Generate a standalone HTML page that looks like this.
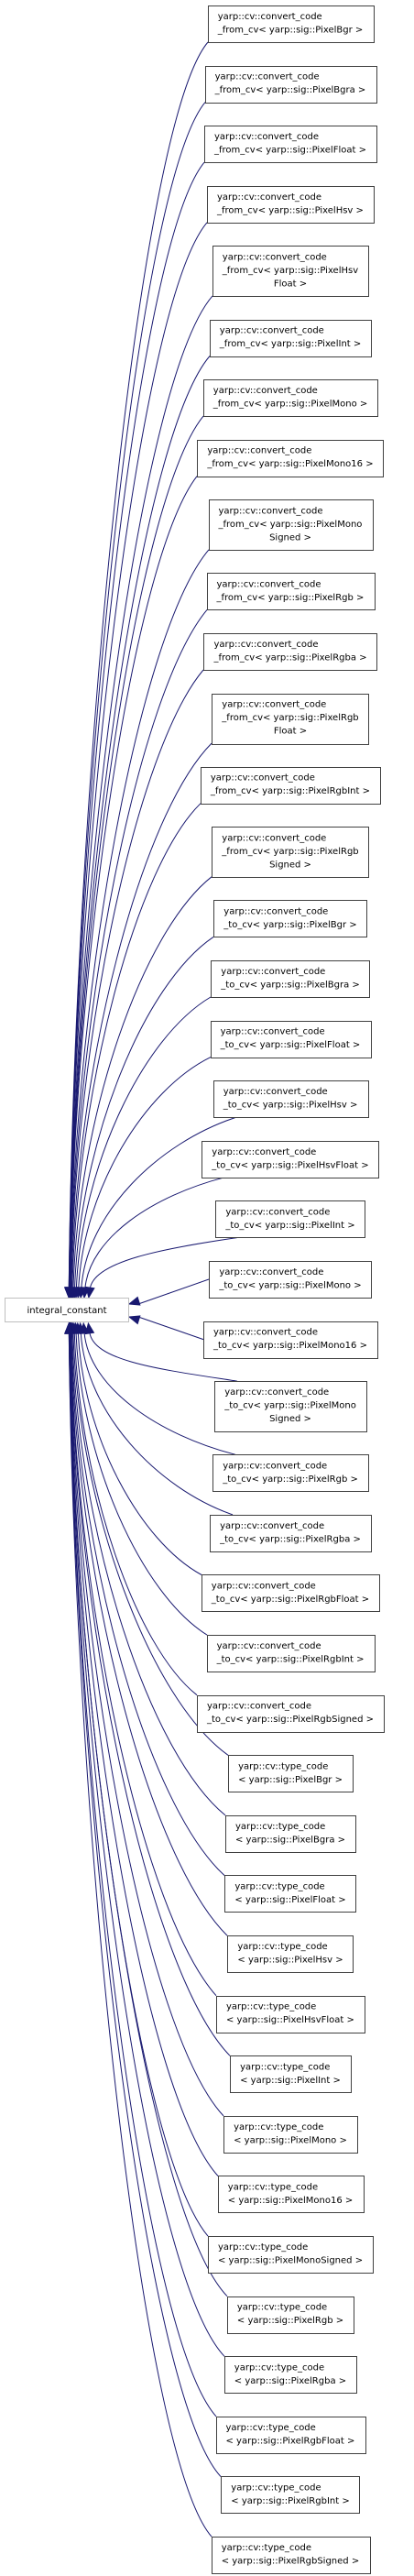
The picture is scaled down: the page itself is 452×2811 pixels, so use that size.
<!DOCTYPE html>
<html><head><meta charset="utf-8">
<style>
html,body{margin:0;padding:0;background:#fff;}
svg{display:block;}
text{font-family:"DejaVu Sans","Liberation Sans",sans-serif;font-size:10px;fill:#000;}
</style></head>
<body>
<svg id="g" width="452" height="2811" viewBox="0 0 452 2811">
  <g id="edges"></g>
  <g id="nodes"></g>
  <g>
    <rect x="5.5" y="1416.5" width="135" height="26" fill="#fff" stroke="#bfbfbf" stroke-width="1"/>
    <text x="73" y="1433" text-anchor="middle">integral_constant</text>
  </g>
</svg>
<script>
const pixels = ["Bgr","Bgra","Float","Hsv","HsvFloat","Int","Mono","Mono16","MonoSigned","Rgb","Rgba","RgbFloat","RgbInt","RgbSigned"];
const fromLines = {
  HsvFloat:["yarp::cv::convert_code","_from_cv< yarp::sig::PixelHsv","Float >"],
  MonoSigned:["yarp::cv::convert_code","_from_cv< yarp::sig::PixelMono","Signed >"],
  RgbFloat:["yarp::cv::convert_code","_from_cv< yarp::sig::PixelRgb","Float >"],
  RgbSigned:["yarp::cv::convert_code","_from_cv< yarp::sig::PixelRgb","Signed >"]
};
const toLines = {
  MonoSigned:["yarp::cv::convert_code","_to_cv< yarp::sig::PixelMono","Signed >"]
};
const nodes = [];
pixels.forEach(p => nodes.push(fromLines[p] || ["yarp::cv::convert_code","_from_cv< yarp::sig::Pixel"+p+" >"]));
pixels.forEach(p => nodes.push(toLines[p] || ["yarp::cv::convert_code","_to_cv< yarp::sig::Pixel"+p+" >"]));
pixels.forEach(p => nodes.push(["yarp::cv::type_code","< yarp::sig::Pixel"+p+" >"]));

const NS="http://www.w3.org/2000/svg";
const gN=document.getElementById('nodes'), gE=document.getElementById('edges');
const CX=317, PY=1430, GAP=25.6;
let y=6;
nodes.forEach((lines,i)=>{
  const h = lines.length===3 ? 54.5 : 40;
  const g=document.createElementNS(NS,'g');
  
  
  const rect=document.createElementNS(NS,'rect');
  g.appendChild(rect);
  gN.appendChild(g);
  const texts=lines.map((l,k)=>{
    const t=document.createElementNS(NS,'text');
    t.textContent=l;
    t.setAttribute('y', (y+15+k*14.5).toFixed(1));
    g.appendChild(t);
    return t;
  });
  let w=0; texts.forEach(t=>{w=Math.max(w,t.getComputedTextLength());});
  const bw=w+22, bx=CX-bw/2;
  texts.forEach((t,k)=>{
    if(lines.length===3 && k===2){t.setAttribute('x',CX);t.setAttribute('text-anchor','middle');}
    else t.setAttribute('x',(bx+11).toFixed(1));
  });
  rect.setAttribute('x',(Math.round(bx)+0.5));
  rect.setAttribute('y',(Math.round(y)+0.5));
  rect.setAttribute('width',Math.round(bw));
  rect.setAttribute('height',Math.round(h));
  rect.setAttribute('fill','#fff');
  rect.setAttribute('stroke','#404040');
  rect.setAttribute('stroke-width','1');

  const cy=y+h/2, dy=cy-PY, s=dy<0?1:-1, ad=Math.abs(dy);
  let d, ex, ey, tx, ty;
  const bxr=Math.round(bx);
  if(ad<70){
    ex=141; ey=PY+(dy<0?-7:7);
    const sx=bxr;
    d=`M${sx},${cy} L${ex+10},${ey}`;
    tx=sx-ex; ty=cy-ey;
  } else {
    ey = dy<0 ? 1416 : 1444;
    ex = 75 + 32*Math.exp(-ad/260);
    const sx=bxr+ (ad<250?25:0), sy = dy<0 ? y+h : y;
    const c1x = ex + (sx-ex)*0.5, c1y = sy + s*Math.min(90, ad*0.12);
    const c2x = ex + 6, c2y = ey - s*ad*0.4;
    let vx=c2x-ex, vy=c2y-ey; const L=Math.hypot(vx,vy); vx/=L; vy/=L;
    const bxp=ex+vx*10, byp=ey+vy*10;
    d=`M${sx},${sy} C${c1x},${c1y} ${c2x},${c2y} ${bxp},${byp}`;
    tx=vx; ty=vy;
  }
  const path=document.createElementNS(NS,'path');
  path.setAttribute('d',d);
  path.setAttribute('fill','none');
  path.setAttribute('stroke','#191970');
  path.setAttribute('stroke-width','1');
  
  
  gE.appendChild(path);
  let L2=Math.hypot(tx,ty); tx/=L2; ty/=L2;
  const px=-ty, py=tx;
  const b1x=ex+tx*11+px*4.5, b1y=ey+ty*11+py*4.5, b2x=ex+tx*11-px*4.5, b2y=ey+ty*11-py*4.5;
  const arr=document.createElementNS(NS,'polygon');
  arr.setAttribute('points',`${ex},${ey} ${b1x},${b1y} ${b2x},${b2y}`);
  arr.setAttribute('fill','#191970');
  arr.setAttribute('stroke','#191970');
  
  
  gE.appendChild(arr);
  y+=h+GAP;
});
</script>
</body></html>
